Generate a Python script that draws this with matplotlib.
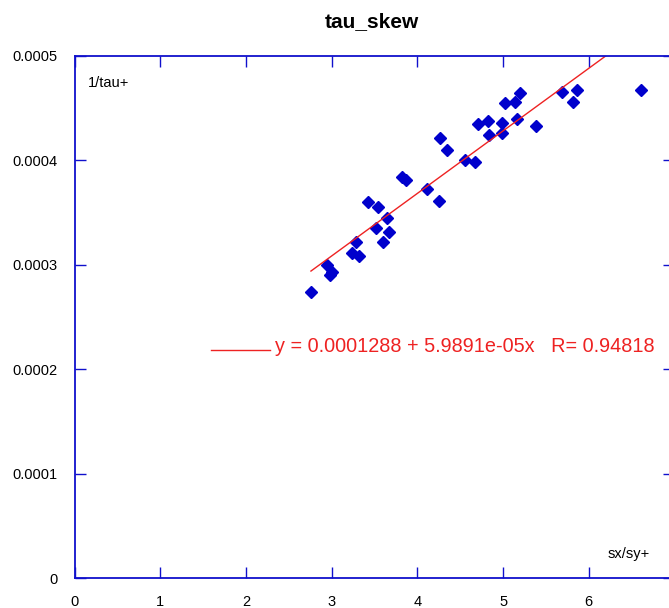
import matplotlib
matplotlib.use("Agg")
import matplotlib.pyplot as plt
import numpy as np

plt.rcParams['font.family'] = ['Liberation Sans', 'DejaVu Sans']

# measured points (sx/sy+ vs 1/tau+)
sx_sy = [2.758, 2.945, 3.004, 2.980, 3.237, 3.319, 3.284, 3.599, 3.517, 3.669,
         3.645, 3.423, 3.540, 3.820, 3.867, 4.112, 4.252, 4.264, 4.345, 4.556,
         4.672, 4.708, 4.825, 4.836, 4.988, 4.988, 5.023, 5.140, 5.163, 5.198,
         5.385, 5.689, 5.864, 5.817, 6.609]
inv_tau = [2.740, 2.998, 2.931, 2.902, 3.113, 3.084, 3.218, 3.218, 3.352, 3.314,
           3.448, 3.602, 3.554, 3.841, 3.812, 3.726, 3.611, 4.215, 4.100, 4.004,
           3.985, 4.349, 4.377, 4.243, 4.358, 4.262, 4.550, 4.559, 4.397, 4.646,
           4.330, 4.655, 4.674, 4.559, 4.674]
inv_tau = [v * 1e-4 for v in inv_tau]

# fit result as printed on the chart
a0 = 0.0001288
a1 = 5.9891e-05
R = 0.94818

xticks = [0, 1, 2, 3, 4, 5, 6, 7]
yticks = [0, 0.0001, 0.0002, 0.0003, 0.0004, 0.0005]
yticklabels = ['0', '0.0001', '0.0002', '0.0003', '0.0004', '0.0005']

blue = '#1010cc'

fig = plt.figure(figsize=(6.69, 6.08), dpi=100)
# axes runs a bit past the right edge of the figure, like the original
ax = fig.add_axes([0.1115, 0.0493, 0.8967, 0.8587])

ax.plot(sx_sy, inv_tau, 'D', color='#0000cc', markersize=6, linestyle='none')

xfit = np.array([min(sx_sy), max(sx_sy)])
ax.plot(xfit, a0 + a1 * xfit, color='#ee2222', linewidth=1)

ax.set_xlim(0, 7)
ax.set_ylim(0, 0.0005)
ax.set_xticks(xticks)
ax.set_xticklabels(['0', '1', '2', '3', '4', '5', '6', ''])
ax.set_yticks(yticks)
ax.set_yticklabels(yticklabels)

for s in ax.spines.values():
    s.set_color(blue)
    s.set_linewidth(1.3)
ax.tick_params(direction='in', length=8, width=1, colors=blue, labelcolor='black',
               labelsize=10.5, top=True, right=True, pad=12)

ax.set_title('tau_skew', fontsize=15, fontweight='bold', pad=21, x=0.496)
ax.text(0.0226, 0.962, '1/tau+', transform=ax.transAxes, fontsize=10.5, va='top')
ax.text(575 / 599.9, 0.033, 'sx/sy+', transform=ax.transAxes, fontsize=10.5,
        ha='right', va='bottom')

# legend-like annotation
ax.plot([1.59, 2.28], [0.000218, 0.000218], color='#ee2222', linewidth=1, clip_on=False)
ax.text(2.34, 0.000222, 'y = %.7f + %.5ge-05x   R= %.5f' % (a0, a1 * 1e5, R),
        color='#ee2222', fontsize=14.3, va='center')

fig.savefig('out.png', dpi=100)
